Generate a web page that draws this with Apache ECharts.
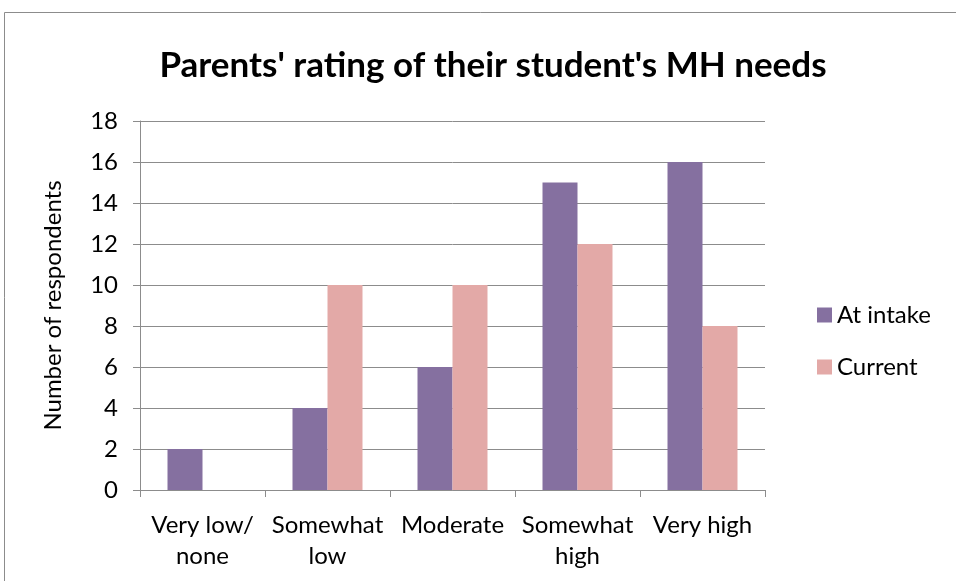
<!DOCTYPE html>
<html>
<head>
<meta charset="utf-8">
<script src="https://cdn.jsdelivr.net/npm/echarts@6/dist/echarts.min.js"></script>
<style>
  html, body { margin: 0; padding: 0; background: #fff; }
  #chart { width: 956px; height: 581px; }
</style>
</head>
<body>
<div id="chart"></div>
<script>
// rating categories on the x axis
var categories = ['Very low/\nnone', 'Somewhat\nlow', 'Moderate', 'Somewhat\nhigh', 'Very high'];
var atIntake = [2, 4, 6, 15, 16];
var current = [0, 10, 10, 12, 8];
var seriesNames = ['At intake', 'Current'];

var FONT = 'Lato';
var chart = echarts.init(document.getElementById('chart'));

var option = {
  animation: false,
  backgroundColor: '#fff',
  color: ['#8570a0', '#e3a9a7'],
  title: {
    text: "Parents' rating of their student's MH needs",
    left: 488,
    textAlign: 'center',
    top: 43,
    textStyle: { fontFamily: FONT, fontSize: 35, fontWeight: 'bold', color: '#000' }
  },
  graphic: [{
    type: 'rect',
    shape: { x: 4.5, y: 12.5, width: 1000, height: 1000 },
    style: { fill: 'none', stroke: '#8c8c8c', lineWidth: 1 },
    silent: true
  }],
  legend: {
    orient: 'vertical',
    left: 812,
    top: 298,
    itemWidth: 15,
    itemHeight: 15,
    itemGap: 28,
    icon: 'rect',
    textStyle: { fontFamily: FONT, fontSize: 24, color: '#000' },
    data: seriesNames
  },
  grid: { left: 140, right: 191, top: 121, bottom: 91 },
  xAxis: {
    type: 'category',
    data: categories,
    axisLine: { lineStyle: { color: '#8c8c8c', width: 1 } },
    axisTick: { show: true, length: 7, lineStyle: { color: '#8c8c8c' } },
    axisLabel: { fontFamily: FONT, fontSize: 24, color: '#000', margin: 20, lineHeight: 31, interval: 0 }
  },
  yAxis: {
    type: 'value',
    min: 0,
    max: 18,
    interval: 2,
    name: 'Number of respondents',
    nameLocation: 'middle',
    nameGap: 75,
    nameRotate: 90,
    nameTextStyle: { fontFamily: FONT, fontSize: 24, color: '#000' },
    axisLine: { show: true, lineStyle: { color: '#8c8c8c', width: 1 } },
    axisTick: { show: true, length: 7, lineStyle: { color: '#8c8c8c' } },
    axisLabel: { fontFamily: FONT, fontSize: 24, color: '#000', margin: 22 },
    splitLine: { lineStyle: { color: '#8c8c8c', width: 1 } }
  },
  series: [
    { name: seriesNames[0], type: 'bar', data: atIntake, barGap: '0%', barCategoryGap: '44%' },
    { name: seriesNames[1], type: 'bar', data: current, barGap: '0%', barCategoryGap: '44%' }
  ]
};
chart.setOption(option);
</script>
</body>
</html>
